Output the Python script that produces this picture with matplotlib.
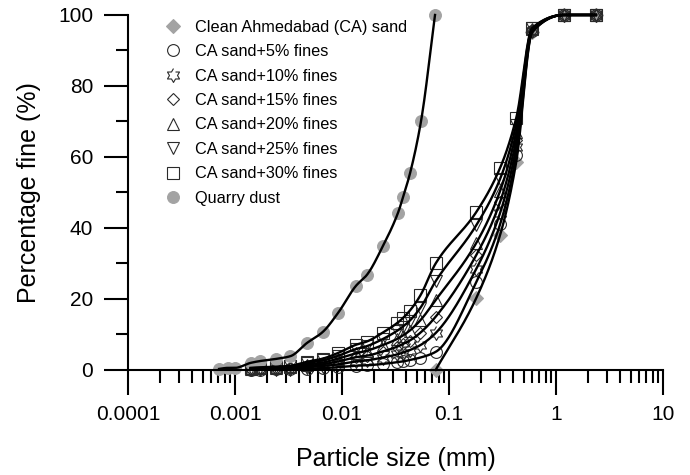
import numpy as np
import matplotlib
matplotlib.use('Agg')
import matplotlib.pyplot as plt

plt.rcParams['font.family'] = ['Liberation Sans', 'DejaVu Sans']

# sieve sizes (mm) shared by the sand mixes
sieve_mm = [2.36, 1.18, 0.6, 0.425, 0.3, 0.18, 0.075]
# hydrometer sizes (mm) for the fines part of the mixes
fines_mm = [0.054, 0.043, 0.037, 0.033, 0.024, 0.017, 0.0135, 0.0092,
            0.0066, 0.0047, 0.0033, 0.0024, 0.0017, 0.0014]

clean_pct = [100, 100, 95.2, 58.6, 38.0, 20.3, 0.0]
mix5_pct = [100, 100, 95.4, 60.5, 41.0, 24.8, 5.1,
            3.5, 2.8, 2.4, 2.2, 1.7, 1.3, 1.2, 0.8, 0.5, 0.4, 0.2, 0.15, 0.1, 0.1]
mix10_pct = [100, 100, 95.6, 62.7, 44.2, 28.5, 10.4,
             7.0, 5.6, 4.9, 4.4, 3.5, 2.7, 2.4, 1.6, 1.1, 0.8, 0.4, 0.3, 0.25, 0.2]
mix15_pct = [100, 100, 95.8, 64.8, 47.3, 32.4, 15.0,
             10.5, 8.3, 7.3, 6.6, 5.2, 4.0, 3.6, 2.4, 1.6, 1.1, 0.6, 0.5, 0.4, 0.3]
mix20_pct = [100, 100, 96.0, 66.9, 50.4, 35.8, 19.7,
             14.0, 11.1, 9.7, 8.8, 7.0, 5.4, 4.7, 3.2, 2.1, 1.5, 0.8, 0.6, 0.5, 0.4]
mix25_pct = [100, 100, 96.2, 69.0, 53.8, 40.8, 25.0,
             17.5, 13.9, 12.2, 11.1, 8.7, 6.7, 5.9, 4.0, 2.7, 1.9, 1.0, 0.8, 0.6, 0.5]
mix30_pct = [100, 100, 96.4, 71.0, 56.9, 44.5, 30.0,
             21.0, 16.7, 14.6, 13.3, 10.5, 8.0, 7.1, 4.8, 3.2, 2.3, 1.2, 0.9, 0.75, 0.6]

qd_mm = [0.074, 0.0547, 0.0433, 0.0372, 0.0333, 0.0241, 0.0171, 0.0135, 0.0092,
         0.0066, 0.0047, 0.0033, 0.0024, 0.0017, 0.0014, 0.0010, 0.00086, 0.00071]
qd_pct = [100, 70, 55.5, 48.7, 44.2, 34.9, 26.8, 23.7, 16.1,
          10.7, 7.6, 3.9, 3.1, 2.5, 2.0, 0.6, 0.6, 0.3]

labels = ['Clean Ahmedabad (CA) sand', 'CA sand+5% fines', 'CA sand+10% fines',
          'CA sand+15% fines', 'CA sand+20% fines', 'CA sand+25% fines',
          'CA sand+30% fines', 'Quarry dust']


def smooth_curve(d, p, n=400):
    """monotone cubic (Fritsch-Carlson) through the points, in log-size space"""
    x = np.log10(np.asarray(d, float))
    y = np.asarray(p, float)
    order = np.argsort(x)
    x, y = x[order], y[order]
    h = np.diff(x)
    delta = np.diff(y) / h
    m = np.zeros_like(y)
    m[0], m[-1] = delta[0], delta[-1]
    for k in range(1, len(x) - 1):
        if delta[k - 1] * delta[k] > 0:
            w1 = 2 * h[k] + h[k - 1]
            w2 = h[k] + 2 * h[k - 1]
            m[k] = (w1 + w2) / (w1 / delta[k - 1] + w2 / delta[k])
    xs = np.linspace(x[0], x[-1], n)
    i = np.clip(np.searchsorted(x, xs) - 1, 0, len(x) - 2)
    t = (xs - x[i]) / h[i]
    h00 = 2 * t**3 - 3 * t**2 + 1
    h10 = t**3 - 2 * t**2 + t
    h01 = -2 * t**3 + 3 * t**2
    h11 = t**3 - t**2
    ys = h00 * y[i] + h10 * h[i] * m[i] + h01 * y[i + 1] + h11 * h[i] * m[i + 1]
    return 10**xs, ys


# six-pointed open star
ang = np.pi / 2 + np.arange(12) * np.pi / 6
rad = np.where(np.arange(12) % 2 == 0, 1.0, 0.58)
star6 = list(zip(rad * np.cos(ang), rad * np.sin(ang)))

gray = '#a3a3a3'
edge = '#2a2a2a'

series = [
    (sieve_mm, clean_pct, dict(marker='D', ms=7, mfc=gray, mec=gray)),
    (sieve_mm + fines_mm, mix5_pct, dict(marker='o', ms=8.5)),
    (sieve_mm + fines_mm, mix10_pct, dict(marker=star6, ms=10)),
    (sieve_mm + fines_mm, mix15_pct, dict(marker='D', ms=6.5)),
    (sieve_mm + fines_mm, mix20_pct, dict(marker='^', ms=8.5)),
    (sieve_mm + fines_mm, mix25_pct, dict(marker='v', ms=8.5)),
    (sieve_mm + fines_mm, mix30_pct, dict(marker='s', ms=8)),
    (qd_mm, qd_pct, dict(marker='o', ms=8.5, mfc=gray, mec=gray)),
]

fig = plt.figure(figsize=(6.9, 4.75), dpi=100)
ax = fig.add_axes([0.1855, 0.2211, 0.7754, 0.7474])

for (d, p, style), lab in zip(series, labels):
    kw = dict(mfc='none', mec=edge, mew=0.8)
    kw.update(style)
    ax.plot(d, p, linestyle='none', label=lab, clip_on=False, zorder=2, **kw)
    xs, ys = smooth_curve(d, p)
    ax.plot(xs, ys, color='black', lw=1.7, zorder=3, clip_on=False)

ax.set_xscale('log')
ax.set_xlim(1e-4, 10)
ax.set_ylim(0, 100)
ax.set_xticks([1e-4, 1e-3, 1e-2, 1e-1, 1, 10])
ax.set_xticklabels(['0.0001', '0.001', '0.01', '0.1', '1', '10'])
ax.set_yticks(range(0, 101, 20))
ax.set_yticks(range(10, 100, 20), minor=True)

for s in ['top', 'right']:
    ax.spines[s].set_visible(False)
for s in ['left', 'bottom']:
    ax.spines[s].set_linewidth(1.5)

ax.tick_params(which='major', direction='out', length=18, width=1.5,
               labelsize=15, pad=7)
ax.tick_params(which='minor', direction='out', length=9, width=1.5)
ax.tick_params(axis='y', which='major', length=17, pad=8)

ax.set_xlabel('Particle size (mm)', fontsize=18, labelpad=17)
ax.set_ylabel('Percentage fine (%)', fontsize=18, labelpad=12)

ax.legend(loc='upper left', bbox_to_anchor=(0.05, 1.005), frameon=False,
          fontsize=11.7, labelspacing=0.58, handletextpad=0.6,
          borderaxespad=0, handlelength=1.5)

fig.savefig('out.png', dpi=100)
